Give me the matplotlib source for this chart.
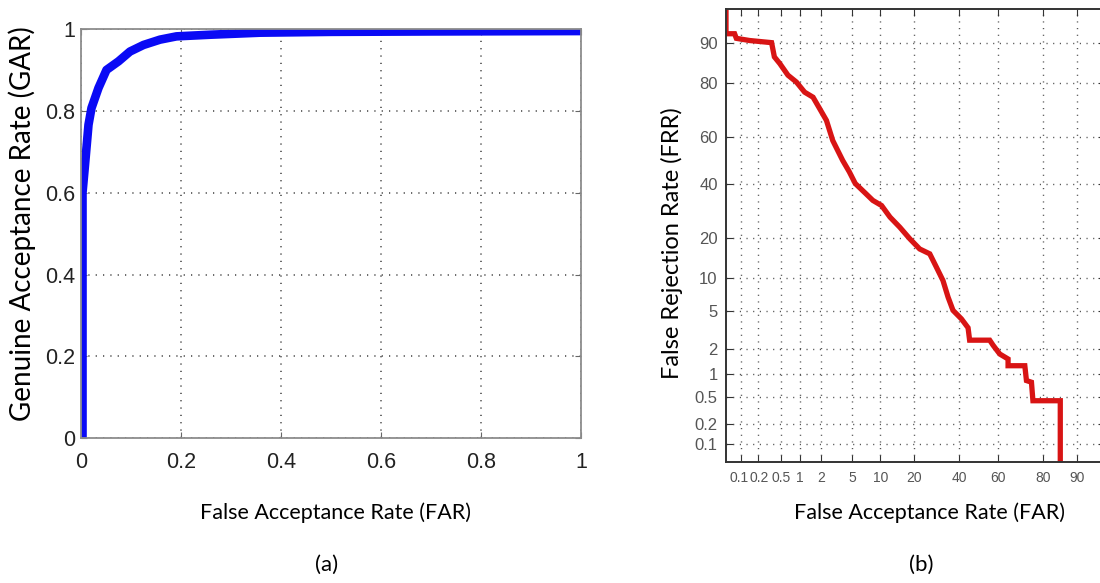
import numpy as np
import matplotlib
matplotlib.use("Agg")
import matplotlib.pyplot as plt
from matplotlib.ticker import NullLocator
from matplotlib.transforms import ScaledTranslation
from statistics import NormalDist

# (a) ROC curve
far_roc = [0.003, 0.003, 0.008, 0.015, 0.021, 0.035, 0.051, 0.075, 0.098, 0.125,
           0.158, 0.191, 0.258, 0.358, 0.5, 0.7, 1.0]
gar_roc = [0.0, 0.60, 0.668, 0.766, 0.807, 0.856, 0.900, 0.921, 0.945, 0.961,
           0.974, 0.982, 0.986, 0.991, 0.993, 0.994, 0.995]
roc_ticks = [0, 0.2, 0.4, 0.6, 0.8, 1]
roc_labels = ["0", "0.2", "0.4", "0.6", "0.8", "1"]

# (b) DET curve, in percent
far_det = [0.05, 0.05, 0.074, 0.08, 0.143, 0.35, 0.39, 0.48, 0.65, 0.88, 1.17,
           1.55, 1.92, 2.37, 2.87, 3.83, 4.6, 5.4, 7.0, 8.4, 10.3, 12.4, 15.2,
           18.5, 22.1, 26.2, 29.1, 32.1, 34.5, 36.9, 41.1, 44.5, 45.3, 55.7,
           57.4, 60.8, 64.9, 64.9, 72.6, 73.3, 75.4, 76.0, 85.6, 85.6]
frr_det = [99.0, 91.6, 91.6, 90.8, 90.4, 90.0, 87.0, 85.4, 82.3, 80.3, 77.1,
           75.4, 71.3, 66.8, 58.5, 49.9, 45.0, 40.0, 36.0, 33.1, 31.1, 26.8, 23.3,
           19.6, 16.7, 15.4, 12.2, 9.5, 6.8, 5.1, 4.2, 3.4, 2.5, 2.5,
           2.2, 1.74, 1.52, 1.26, 1.26, 0.82, 0.78, 0.44, 0.44, 0.01]
det_ticks = [0.1, 0.2, 0.5, 1, 2, 5, 10, 20, 40, 60, 80, 90]
det_labels = ["0.1", "0.2", "0.5", "1", "2", "5", "10", "20", "40", "60", "80", "90"]

_nd = NormalDist()
_ppf = np.vectorize(_nd.inv_cdf, otypes=[float])
_cdf = np.vectorize(_nd.cdf, otypes=[float])


def probit(p):
    p = np.clip(np.asarray(p, dtype=float) / 100.0, 1e-9, 1 - 1e-9)
    return _ppf(p)


def probit_inv(z):
    return _cdf(np.asarray(z, dtype=float)) * 100.0


lab_font = "Lato"
fig = plt.figure(figsize=(11, 5.83), dpi=100)

# ---- left panel
ax1 = fig.add_axes([81 / 1100, (583 - 438.3) / 583, 500 / 1100, 409.3 / 583])
ax1.plot(far_roc, gar_roc, color="#0a0af5", lw=6.2, solid_capstyle="butt")
ax1.set_xlim(0, 1)
ax1.set_ylim(0, 1)
ax1.set_xticks(roc_ticks)
ax1.set_xticklabels(roc_labels)
ax1.set_yticks(roc_ticks)
ax1.set_yticklabels(roc_labels)
ax1.grid(True, color="0.25", linestyle=(0, (0.8, 4)), linewidth=1.1)
for s in ax1.spines.values():
    s.set_color("#8c8c8c")
    s.set_linewidth(1.3)
ax1.tick_params(direction="in", length=4, color="0.4", labelsize=15.5,
                top=True, right=True, pad=4)
ax1.tick_params(axis="x", pad=10)
for t in ax1.get_xticklabels() + ax1.get_yticklabels():
    t.set_family("Liberation Sans")
    t.set_color("#222222")

# ---- right panel
ax2 = fig.add_axes([726 / 1100, (583 - 462.3) / 583, 379 / 1100, 453 / 583])
ax2.set_xscale("function", functions=(probit, probit_inv))
ax2.set_yscale("function", functions=(probit, probit_inv))
ax2.plot(far_det, frr_det, color="#d81414", lw=3.8, solid_joinstyle="miter")
ax2.set_xlim(0.05, 95)
ax2.set_ylim(0.05, 95)
ax2.set_xticks(det_ticks)
ax2.set_xticklabels(det_labels)
ax2.set_yticks(det_ticks)
ax2.set_yticklabels(det_labels)
ax2.xaxis.set_minor_locator(NullLocator())
ax2.yaxis.set_minor_locator(NullLocator())
ax2.grid(True, color="0.3", linestyle=(0, (0.8, 4)), linewidth=1.0)
for s in ax2.spines.values():
    s.set_color("#333333")
    s.set_linewidth(1.4)
ax2.tick_params(direction="in", length=5, color="0.2",
                top=True, right=True, pad=6)
ax2.tick_params(axis="x", labelsize=10)
ax2.tick_params(axis="y", labelsize=12)
for t in ax2.get_xticklabels() + ax2.get_yticklabels():
    t.set_family("Liberation Sans")
    t.set_color("#555555")

# the first two FAR labels sit very close, nudge them apart a little
xt = ax2.xaxis.get_major_ticks()
for tick, dx in [(xt[0], -2.5), (xt[1], 2.0)]:
    lab = tick.label1
    lab.set_transform(lab.get_transform() + ScaledTranslation(dx / 100, 0, fig.dpi_scale_trans))

# ---- labels
fig.text(335 / 1100, 1 - 513 / 583, "False Acceptance Rate (FAR)", family=lab_font,
         fontsize=15.5, ha="center", va="center")
fig.text(22 / 1100, 1 - 224 / 583, "Genuine Acceptance Rate (GAR)", family=lab_font,
         fontsize=20, ha="center", va="center", rotation=90)
fig.text(929 / 1100, 1 - 513 / 583, "False Acceptance Rate (FAR)", family=lab_font,
         fontsize=15.5, ha="center", va="center")
fig.text(672 / 1100, 1 - 243 / 583, "False Rejection Rate (FRR)", family=lab_font,
         fontsize=17, ha="center", va="center", rotation=90)
fig.text(327 / 1100, 1 - 565 / 583, "(a)", family=lab_font,
         fontsize=16, ha="center", va="center")
fig.text(921 / 1100, 1 - 565 / 583, "(b)", family=lab_font,
         fontsize=16, ha="center", va="center")

fig.savefig("out.png", dpi=100)
